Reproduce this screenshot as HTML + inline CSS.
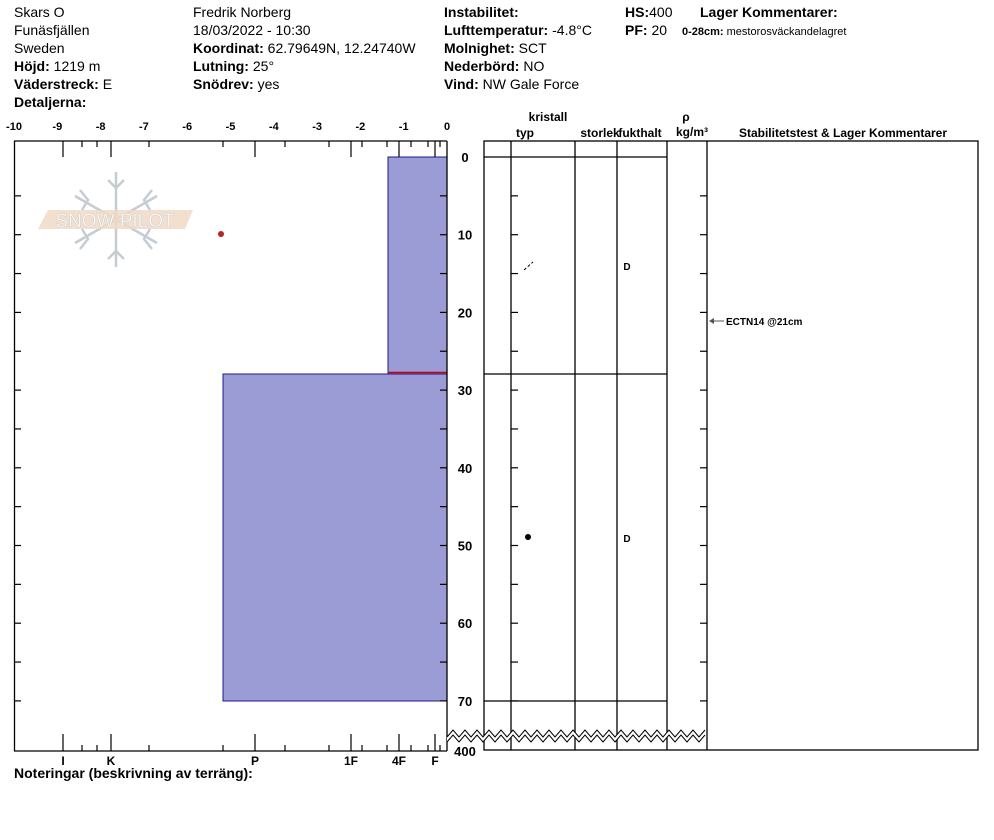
<!DOCTYPE html>
<html><head><meta charset="utf-8"><style>
body{margin:0;background:#fff;width:994px;height:840px;overflow:hidden}
svg{display:block;font-family:"Liberation Sans",Arial,sans-serif}
.b{font-weight:bold}
</style></head><body>
<svg id="s" width="994" height="840" xmlns="http://www.w3.org/2000/svg">
<g font-size="14" fill="#000">
<text x="14" y="17">Skars O</text>
<text x="14" y="35">Funäsfjällen</text>
<text x="14" y="53">Sweden</text>
<text x="14" y="71"><tspan class="b">Höjd:</tspan> 1219 m</text>
<text x="14" y="89"><tspan class="b">Väderstreck:</tspan> E</text>
<text x="14" y="107" class="b">Detaljerna:</text>
<text x="193" y="17">Fredrik Norberg</text>
<text x="193" y="35">18/03/2022 - 10:30</text>
<text x="193" y="53"><tspan class="b">Koordinat:</tspan> 62.79649N, 12.24740W</text>
<text x="193" y="71"><tspan class="b">Lutning:</tspan> 25°</text>
<text x="193" y="89"><tspan class="b">Snödrev:</tspan> yes</text>
<text x="444" y="17" class="b">Instabilitet:</text>
<text x="444" y="35"><tspan class="b">Lufttemperatur:</tspan> -4.8°C</text>
<text x="444" y="53"><tspan class="b">Molnighet:</tspan> SCT</text>
<text x="444" y="71"><tspan class="b">Nederbörd:</tspan> NO</text>
<text x="444" y="89"><tspan class="b">Vind:</tspan>  NW Gale Force</text>
<text x="625" y="17"><tspan class="b">HS:</tspan>400</text>
<text x="625" y="35"><tspan class="b">PF:</tspan> 20</text>
<text x="700" y="17" class="b">Lager Kommentarer:</text>
<text x="682" y="35" font-size="11"><tspan class="b">0-28cm:</tspan> mestorosväckandelagret</text>
</g>
<!-- watermark -->
<g>
<g stroke="#c5ccd3" stroke-width="2.5" fill="none">
<line x1="116" y1="172" x2="116" y2="267"/>
<line x1="75" y1="196" x2="157" y2="243"/>
<line x1="75" y1="243" x2="157" y2="196"/>
<path d="M108,180 L116,188 L124,180 M108,259 L116,251 L124,259 M80,190 L88,200 L82,210 M152,190 L144,200 L150,210 M80,249 L88,239 L82,229 M152,249 L144,239 L150,229"/>
</g>
<polygon points="48,210 193,210 185,229 38,229" fill="#f0d9c4" opacity="0.85"/>
<text x="115" y="227" font-size="19" fill="#fff" text-anchor="middle" stroke="#d0d0d0" stroke-width="0.6">SNOW PILOT</text>
</g>
<!-- bars -->
<rect x="388" y="157" width="59" height="217" fill="#9b9bd6" stroke="#1a1a8c" stroke-width="1"/>
<rect x="223" y="374" width="224" height="327" fill="#9b9bd6" stroke="#1a1a8c" stroke-width="1"/>
<line x1="388" y1="372.5" x2="447" y2="372.5" stroke="#c00" stroke-width="1.5"/>
<circle cx="221" cy="234" r="3" fill="#b22"/>
<g id="axes" stroke="#000" stroke-width="1.3" fill="none">
<line x1="14" y1="141" x2="447" y2="141"/>
<line x1="14" y1="751" x2="447" y2="751"/>
<line x1="14.5" y1="141" x2="14.5" y2="751"/>
<line x1="447" y1="141" x2="447" y2="751"/>
<rect x="484" y="141" width="494" height="609"/>
<line x1="511" y1="141" x2="511" y2="750"/>
<line x1="575" y1="141" x2="575" y2="750"/>
<line x1="617" y1="141" x2="617" y2="750"/>
<line x1="667" y1="141" x2="667" y2="750"/>
<line x1="707" y1="141" x2="707" y2="750"/>
<line x1="484" y1="157" x2="667" y2="157"/>
<line x1="484" y1="374" x2="667" y2="374"/>
<line x1="484" y1="701" x2="667" y2="701"/>
</g>
<g font-size="12" font-weight="bold" text-anchor="middle" id="lbl">
<text x="548" y="121">kristall</text>
<text x="525" y="137">typ</text>
<text x="600" y="137">storlek</text>
<text x="640" y="137">fukthalt</text>
<text x="686" y="121">ρ</text>
<text x="692" y="136">kg/m³</text>
<text x="843" y="137">Stabilitetstest &amp; Lager Kommentarer</text>
<text x="627" y="270" font-size="10">D</text>
<text x="627" y="542" font-size="10">D</text>
<text x="726" y="325" font-size="10" text-anchor="start">ECTN14 @21cm</text>
<text x="465" y="756" font-size="13">400</text>
<text x="14" y="778" font-size="14" text-anchor="start">Noteringar (beskrivning av terräng):</text>
</g>
<line x1="710" y1="321" x2="724" y2="321" stroke="#555" stroke-width="1"/>
<polygon points="709,321 714,318 714,324" fill="#555"/>
<line x1="524" y1="270" x2="533" y2="262" stroke="#000" stroke-dasharray="3,2"/>
<circle cx="528" cy="537" r="3" fill="#000"/>
</svg>
<script>
var s=document.getElementById('s'),NS='http://www.w3.org/2000/svg';
function el(t,a,txt){var e=document.createElementNS(NS,t);for(var k in a)e.setAttribute(k,a[k]);if(txt!=null)e.textContent=txt;s.appendChild(e);return e;}
function ln(x1,y1,x2,y2,w){el('line',{x1:x1,y1:y1,x2:x2,y2:y2,stroke:'#000','stroke-width':w||1.2});}
for(var i=0;i<=10;i++){var x=14+i*43.3;el('text',{x:x,y:130,'font-size':11,'font-weight':'bold','text-anchor':'middle'},i==10?'0':'-'+(10-i));}
var L=[63,111,255,351,399,435],S=[82,97,149,223,285,329,362,387,411,428,440];
L.forEach(function(x){ln(x,141,x,157);ln(x,734,x,751);});
S.forEach(function(x){ln(x,141,x,147);ln(x,745,x,751);});
var nm=['I','K','P','1F','4F','F'];
L.forEach(function(x,i){el('text',{x:x,y:765,'font-size':12,'font-weight':'bold','text-anchor':'middle'},nm[i]);});
for(var d=0;d<=70;d+=5){var y=157+d*7.77;
 if(d>0){ln(14,y,21,y);ln(440,y,447,y);ln(511,y,518,y);ln(700,y,707,y);}
 if(d%10==0)el('text',{x:465,y:y+5,'font-size':13,'font-weight':'bold','text-anchor':'middle'},String(d));}
var p1='',p2='';for(var x=447,k=0;x<=708;x+=6,k++){var y=(k%2?730:737);p1+=x+','+y+' ';p2+=x+','+(y+5)+' ';}
el('polygon',{points:p1+' '+p2.split(' ').reverse().join(' '),fill:'#fff',stroke:'none'});
el('polyline',{points:p1,fill:'none',stroke:'#000','stroke-width':1});
el('polyline',{points:p2,fill:'none',stroke:'#000','stroke-width':1});
</script>
</body></html>
